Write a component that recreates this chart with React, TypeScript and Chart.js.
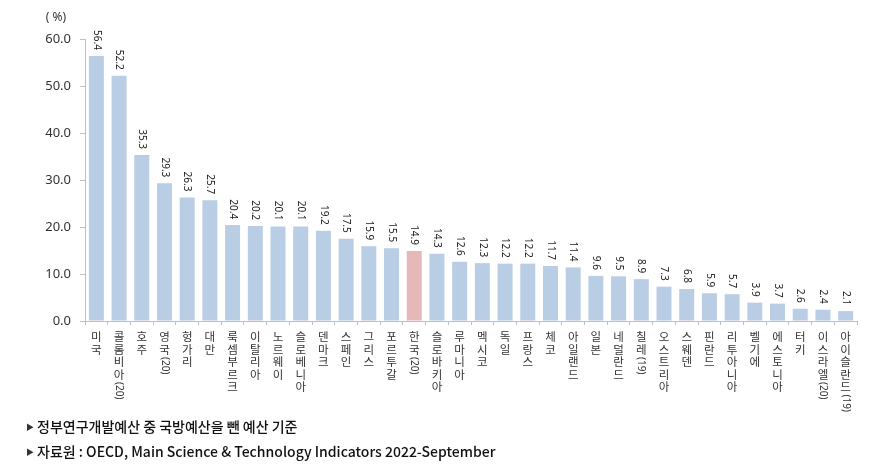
import React, { useEffect, useRef } from "react";
import { Chart, registerables } from "chart.js";
Chart.register(...registerables);

const categories = [
  "미국", "콜롬비아(20)", "호주", "영국(20)", "헝가리", "대만", "룩셈부르크", "이탈리아",
  "노르웨이", "슬로베니아", "덴마크", "스페인", "그리스", "포르투갈", "한국(20)", "슬로바키아",
  "루마니아", "멕시코", "독일", "프랑스", "체코", "아일랜드", "일본", "네덜란드", "칠레(19)",
  "오스트리아", "스웨덴", "핀란드", "리투아니아", "벨기에", "에스토니아", "터키", "이스라엘(20)",
  "아이슬란드(19)",
];
const values = [
  56.4, 52.2, 35.3, 29.3, 26.3, 25.7, 20.4, 20.2, 20.1, 20.1, 19.2, 17.5, 15.9, 15.5, 14.9, 14.3,
  12.6, 12.3, 12.2, 12.2, 11.7, 11.4, 9.6, 9.5, 8.9, 7.3, 6.8, 5.9, 5.7, 3.9, 3.7, 2.6, 2.4, 2.1,
];
const highlightCategory = "한국(20)";
const yMin = 0;
const yMax = 60;
const yStep = 10;
const unitLabel = "( %)";
const notes = [
  "정부연구개발예산 중 국방예산을 뺀 예산 기준",
  "자료원 : OECD, Main Science & Technology Indicators 2022-September",
];

const BAR = "#b9cde5";
const BAR_HI = "#e6b9b8";
const TEXT = "#333333";
const AXIS = "#bfbfbf";

function splitLabel(label: string): { text: string; rotate: boolean }[] {
  const parts: { text: string; rotate: boolean }[] = [];
  let run = "";
  for (const ch of label) {
    if (/[\x00-\x7F]/.test(ch)) {
      run += ch;
    } else {
      if (run) { parts.push({ text: run, rotate: true }); run = ""; }
      parts.push({ text: ch, rotate: false });
    }
  }
  if (run) parts.push({ text: run, rotate: true });
  return parts;
}

const labelsPlugin = {
  id: "customLabels",
  afterDatasetsDraw(chart: any) {
    const ctx = chart.ctx as CanvasRenderingContext2D;
    const meta = chart.getDatasetMeta(0);
    const xScale = chart.scales.x;
    const area = chart.chartArea;
    ctx.save();
    ctx.font = "10px 'Noto Sans', sans-serif";
    ctx.fillStyle = "#222";
    meta.data.forEach((el: any, i: number) => {
      ctx.save();
      ctx.translate(el.x, el.y - 6);
      ctx.rotate(Math.PI / 2);
      ctx.textAlign = "right";
      ctx.textBaseline = "middle";
      ctx.fillText(values[i].toFixed(1), 0, 0);
      ctx.restore();
    });
    ctx.fillStyle = TEXT;
    categories.forEach((cat, i) => {
      const x = xScale.getPixelForValue(i);
      let y = area.bottom + 10;
      for (const p of splitLabel(cat)) {
        if (!p.rotate) {
          ctx.font = "11.5px 'Noto Sans CJK KR', sans-serif";
          ctx.textAlign = "center";
          ctx.textBaseline = "top";
          ctx.fillText(p.text, x, y);
          y += 12.5;
        } else {
          ctx.font = "10px 'Noto Sans', sans-serif";
          const w = ctx.measureText(p.text).width;
          ctx.save();
          ctx.translate(x, y + 1);
          ctx.rotate(Math.PI / 2);
          ctx.textAlign = "left";
          ctx.textBaseline = "middle";
          ctx.fillText(p.text, 0, 0);
          ctx.restore();
          y += w + 2;
        }
      }
    });
    ctx.font = "12px 'Noto Sans', sans-serif";
    ctx.textAlign = "center";
    ctx.textBaseline = "middle";
    ctx.fillStyle = TEXT;
    ctx.fillText(unitLabel, area.left - 29, area.top - 21);
    ctx.restore();
  },
};

export default function App() {
  const ref = useRef<HTMLCanvasElement>(null);
  useEffect(() => {
    if (!ref.current) return;
    const chart = new Chart(ref.current, {
      type: "bar",
      data: {
        labels: categories,
        datasets: [
          {
            data: values,
            backgroundColor: categories.map((c) => (c === highlightCategory ? BAR_HI : BAR)),
            barPercentage: 0.66,
            categoryPercentage: 1,
          },
        ],
      },
      options: {
        responsive: false,
        animation: false,
        layout: { padding: { top: 39, right: 20, left: 0, bottom: 0 } },
        plugins: { legend: { display: false }, tooltip: { enabled: false } },
        scales: {
          x: {
            grid: {
              display: true,
              drawOnChartArea: false,
              drawTicks: true,
              tickLength: 4,
              color: AXIS,
              offset: true,
            },
            border: { display: true, color: AXIS },
            ticks: { display: false },
            afterFit: (s: any) => { s.height = 148; },
          },
          y: {
            min: yMin,
            max: yMax,
            grid: { display: true, drawOnChartArea: false, drawTicks: true, tickLength: 5, color: AXIS },
            border: { display: true, color: AXIS },
            ticks: {
              stepSize: yStep,
              padding: 9,
              color: TEXT,
              font: { family: "'Noto Sans', sans-serif", size: 13 },
              callback: (v: any) => Number(v).toFixed(1),
            },
            afterFit: (s: any) => { s.width = 85; },
          },
        },
      },
      plugins: [labelsPlugin],
    });
    return () => chart.destroy();
  }, []);

  return (
    <div style={{ position: "fixed", left: 0, top: 0, width: 877, height: 469, background: "#fff" }}>
      <canvas ref={ref} width={877} height={469} style={{ display: "block" }} />
      {notes.map((n, i) => (
        <div
          key={i}
          style={{
            position: "absolute",
            left: 26,
            top: 416 + i * 25,
            fontFamily: "'Noto Sans CJK KR', sans-serif",
            fontSize: 14,
            fontWeight: 500,
            color: "#111",
            whiteSpace: "nowrap",
            lineHeight: "20px",
          }}
        >
          <span style={{ fontSize: 8, marginRight: 3, verticalAlign: "2px", color: "#333" }}>▶</span>
          {n}
        </div>
      ))}
    </div>
  );
}
